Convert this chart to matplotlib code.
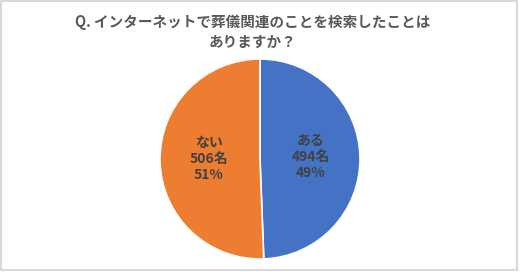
import matplotlib.pyplot as plt
from matplotlib.patches import Rectangle
import numpy as np

plt.rcParams['font.family'] = ['Noto Sans CJK JP', 'DejaVu Sans']

# Data
labels = ["ある", "ない"]
counts = [494, 506]
percents = [49, 51]
colors = ["#4472C4", "#ED7D31"]
title = "Q. インターネットで葬儀関連のことを検索したことは\nありますか？"

W, H = 520, 272
fig = plt.figure(figsize=(W / 100, H / 100), dpi=100)

# pie area: centre (260, 159), radius 102 px
cx, cy, r = 260, 159, 102
ax = fig.add_axes([(cx - r) / W, (H - cy - r) / H, 2 * r / W, 2 * r / H])

wedges, _ = ax.pie(
    counts,
    colors=colors,
    startangle=90,
    counterclock=False,
    radius=1,
    wedgeprops=dict(edgecolor="white", linewidth=1.2),
)
ax.set_xlim(-1.02, 1.02)
ax.set_ylim(-1.02, 1.02)
ax.set_aspect("equal")
ax.axis("off")

# labels inside slices
for w, lab, n, p in zip(wedges, labels, counts, percents):
    ang = np.deg2rad((w.theta1 + w.theta2) / 2)
    x, y = 0.51 * np.cos(ang), 0.51 * np.sin(ang)
    ax.text(x, y + 0.01, f"{lab}\n{n}名\n{p}%", ha="center", va="center",
            fontsize=10, fontweight="bold", color="#404040", linespacing=1.2)

fig.text(253 / W, 1 - 32 / H, title, ha="center", va="center", fontsize=10.5,
         fontweight="bold", color="#595959", linespacing=1.35)

# light frame around the chart
fig.patches.append(Rectangle((1 / W, 2 / H), (W - 4) / W, (H - 3) / H,
                             transform=fig.transFigure, fill=False,
                             edgecolor="#D9D9D9", linewidth=1.5))

fig.savefig("out.png", dpi=100)
